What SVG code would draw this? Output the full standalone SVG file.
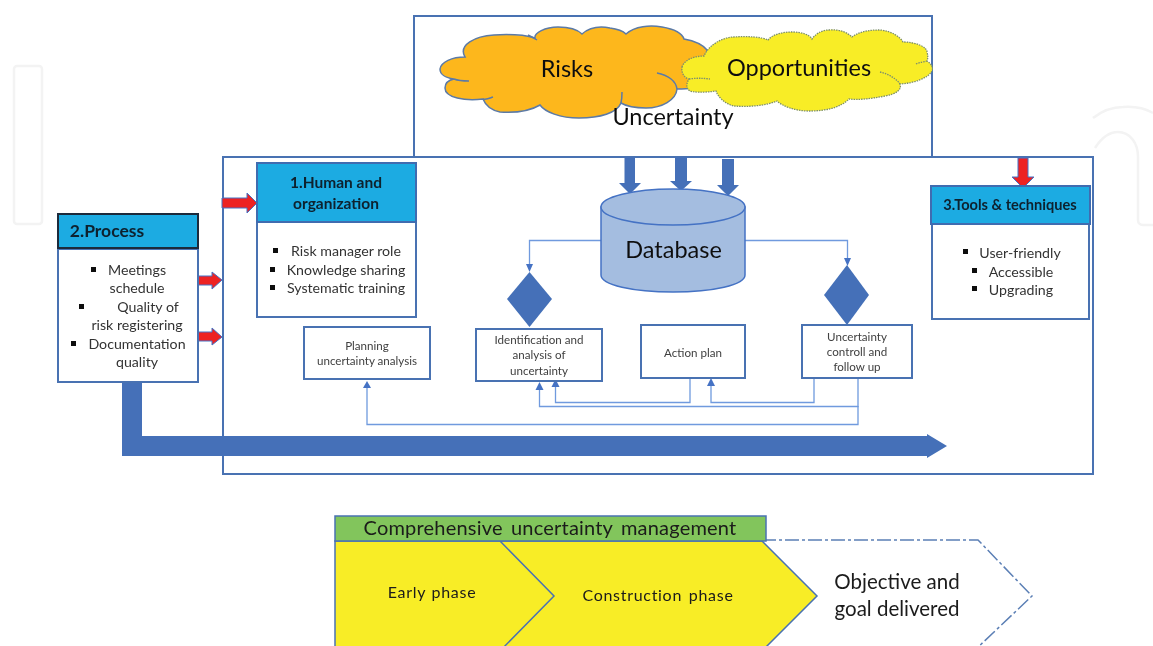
<svg xmlns="http://www.w3.org/2000/svg" width="1153" height="646" viewBox="0 0 1153 646">
<style>
text{font-family:Lato,"Liberation Sans",sans-serif;fill:#1a1a1a;text-anchor:middle}
.box{fill:#fff;stroke:#4a72b2;stroke-width:2}
.head{fill:#1aabe2;stroke:#3f6cb0;stroke-width:2}
.hd{font-weight:700;font-size:15.500px;fill:#10202e}
.b{font-size:14.200px;fill:#333}
.s{font-size:11.600px;fill:#404040}
.big{font-size:23.500px;fill:#111}
.c{fill:none;stroke:#6f9ade;stroke-width:1.3}
.tip{fill:#4472c4}
.red{fill:#ed2024;stroke:#4472c4;stroke-width:1}
.blue{fill:#4470b8}
.wm{fill:none;stroke:#f3f3f3;stroke-width:2.500}
.sq{fill:#111}
.crease{fill:none;stroke:#5b7aa6;stroke-width:1.500}
.crease2{fill:none;stroke:#7d8f6a;stroke-width:1.300;stroke-dasharray:1.500 1}
</style>
<defs><filter id="soft" x="0" y="0" width="100%" height="100%"><feGaussianBlur stdDeviation="0.45"/></filter></defs>
<g filter="url(#soft)">
<rect width="1153" height="646" fill="#fff"/>
<g id="watermark">
<rect class="wm" x="14" y="66" width="28" height="158" rx="3"/>
<path class="wm" d="M1093 118C1102 111 1112 107 1123 107C1135 106 1146 109 1153 113"/>
<path class="wm" d="M1095 148C1102 137 1110 132 1118 132C1130 132 1138 143 1138 157V220C1138 223 1140 225 1143 225H1153"/>
</g>
<g id="uncertainty">
<rect class="box" x="414" y="16" width="518" height="141"/>
</g>
<g id="risks">
<path d="M440 69C441 62 452 57 465 57C458 45 475 36 494 35C510 34 525 35 535 38C534 33 545 27 558 27C570 27 578 30 582 34C590 27 600 26 610 28C618 29 624 32 626 34C635 26 650 25 662 27C674 29 682 33 684 39C695 41 703 45 707 50L700 85C697 88 685 89 677 89C676 100 662 108 646 108C636 108 626 106 621 103C617 113 600 118 579 118C560 118 545 112 540 105C530 111 515 113 500 112C490 110 485 104 483 99C465 101 445 98 445 88C445 83 449 80 454 79C445 78 440 74 440 69Z" fill="#fdb71f" stroke="#5b7aa6" stroke-width="1.500"/>
<path class="crease" d="M454 79C459 81 464 81 469 81M657 73C668 75 676 81 677 89M621 103C622 99 622 95 622 92M528 35C530 36 534 38 537 40M483 99C487 100 490 98 493 97"/>
</g>
<g id="opportunities">
<path d="M682 67C684 60 694 56 704 56C708 46 722 37 734 37C748 36 762 37 768 40C773 34 783 32 792 32C802 32 810 35 812 39C817 32 824 30 829 30C840 29 848 33 852 37C860 31 870 30 880 30C892 31 900 37 903 42C916 42 927 47 927 52C928 56 928 58 927 61C932 64 933 68 932 71C928 78 915 83 900 84C902 90 896 94 885 96C870 99 858 100 849 99C840 108 825 111 809 111C795 111 782 106 777 101C765 106 748 107 734 106C725 104 718 97 716 91C703 93 692 92 690 91C685 88 687 82 689 79C684 78 681 72 682 67Z" fill="#f8ed28" stroke="#7d8f6a" stroke-width="1.300" stroke-dasharray="1.500 1"/>
<path class="crease2" d="M689 79C696 78 702 78 710 79M880 72C888 74 896 78 900 84M927 61C924 62 920 62 916 64"/>
</g>
<text class="big" x="567" y="77">Risks</text>
<text class="big" x="799" y="76">Opportunities</text>
<text class="big" x="673" y="125">Uncertainty</text>
<g id="main">
<rect class="box" x="223" y="157" width="870" height="317"/>
</g>
<g id="connectors">
<path class="c" d="M601 240.500H529.500V264"/>
<path class="c" d="M745 240.500H847.500V258"/>
<path class="c" d="M690 378V402.500H555.500V386"/>
<path class="c" d="M858 378V406.500H539.500V386"/>
<path class="c" d="M814 378V402.500H711V384"/>
<path class="c" d="M858 406V424.500H367V386"/>
<polygon class="tip" points="526,264 533,264 529.500,272"/>
<polygon class="tip" points="844,258 851,258 847.500,266"/>
<polygon class="tip" points="551.500,387 559.500,387 555.500,379"/>
<polygon class="tip" points="535.500,390 543.500,390 539.500,382"/>
<polygon class="tip" points="707,386 715,386 711,378"/>
<polygon class="tip" points="363,388 371,388 367,381"/>
<path class="blue" d="M122 382H142V436H927V434L947 446L927 458V456H122Z"/>
<polygon class="blue" points="624.500,157 635,157 635,183 641,183 630,194 619,183 624.500,183"/>
<polygon class="blue" points="675,157 687,157 687,181 692,181 681,191 670,181 675,181"/>
<polygon class="blue" points="722,159 734,159 734,185 739,185 728,196 717,185 722,185"/>
<polygon class="red" points="222,198 247,198 247,193 257,203 247,213 247,208 222,208"/>
<polygon class="red" points="198,276 212,276 212,272 222,280 212,289 212,285 198,285"/>
<polygon class="red" points="198,332 212,332 212,328 222,337 212,345 212,341 198,341"/>
<polygon class="red" points="1018,158 1028,158 1028,177 1034,177 1023,188 1012,177 1018,177"/>
</g>
<g id="database">
<path d="M601 207V275C601 285 633 292 673 292C713 292 745 285 745 275V207Z" fill="#a4bde0" stroke="#4472c4" stroke-width="1.500"/>
<ellipse cx="673" cy="207" rx="72" ry="18" fill="#a4bde0" stroke="#4472c4" stroke-width="1.500"/>
<text x="673.500" y="258" style="font-size:23.500px;fill:#111">Database</text>
</g>
<g id="diamond-left"><polygon class="blue" points="529.500,272 552,299 529.500,327 507,299"/></g>
<g id="diamond-right"><polygon class="blue" points="847,265 869,295 847,325 824,295"/></g>
<g id="process">
<rect class="box" x="58" y="249" width="140" height="133"/>
<rect x="58" y="214" width="140" height="34" fill="#1aabe2" stroke="#1c2b3a" stroke-width="2"/>
<text x="107" y="237" style="font-weight:700;font-size:17.500px;fill:#10202e">2.Process</text>
<text class="b" x="137" y="275">Meetings</text>
<text class="b" x="137" y="293">schedule</text>
<text class="b" x="148" y="312">Quality of</text>
<text class="b" x="137" y="330">risk registering</text>
<text class="b" x="137" y="349">Documentation</text>
<text class="b" x="137" y="367">quality</text>
<rect class="sq" x="91" y="267" width="5" height="5"/>
<rect class="sq" x="79" y="304" width="5" height="5"/>
<rect class="sq" x="71" y="341" width="5" height="5"/>
</g>
<g id="human">
<rect class="box" x="257" y="222" width="159" height="95"/>
<rect class="head" x="257" y="163" width="159" height="59"/>
<text class="hd" x="336" y="188">1.Human and</text>
<text class="hd" x="336" y="209">organization</text>
<text class="b" x="346" y="256">Risk manager role</text>
<text class="b" x="346" y="275">Knowledge sharing</text>
<text class="b" x="346" y="293">Systematic training</text>
<rect class="sq" x="273" y="248" width="5" height="5"/>
<rect class="sq" x="270" y="267" width="5" height="5"/>
<rect class="sq" x="270" y="285" width="5" height="5"/>
</g>
<g id="tools">
<rect class="box" x="932" y="224" width="157" height="95"/>
<rect class="head" x="931" y="186" width="159" height="38"/>
<text class="hd" x="1010" y="210" style="font-size:14.600px">3.Tools &amp; techniques</text>
<text class="b" x="1020" y="258">User-friendly</text>
<text class="b" x="1021" y="277">Accessible</text>
<text class="b" x="1021" y="295">Upgrading</text>
<rect class="sq" x="963" y="249" width="5" height="5"/>
<rect class="sq" x="972" y="268" width="5" height="5"/>
<rect class="sq" x="972" y="286" width="5" height="5"/>
</g>
<g id="planning">
<rect class="box" x="304" y="327" width="126" height="52"/>
<text class="s" x="367" y="350">Planning</text>
<text class="s" x="367" y="365">uncertainty analysis</text>
</g>
<g id="identification">
<rect class="box" x="476" y="329" width="126" height="52"/>
<text class="s" x="539" y="344">Identification and</text>
<text class="s" x="539" y="359">analysis of</text>
<text class="s" x="539" y="375">uncertainty</text>
</g>
<g id="action">
<rect class="box" x="641" y="325" width="104" height="53"/>
<text class="s" x="693" y="357">Action plan</text>
</g>
<g id="control">
<rect class="box" x="802" y="325" width="110" height="53"/>
<text class="s" x="857" y="341">Uncertainty</text>
<text class="s" x="857" y="356">controll and</text>
<text class="s" x="857" y="371">follow up</text>
</g>
<g id="objective">
<path d="M762 540H978L1032 596L975 650" fill="none" stroke="#5b7fb5" stroke-width="1.500" stroke-dasharray="14 3 3 3"/>
<text x="897" y="589" style="font-size:20.500px">Objective and</text>
<text x="897" y="616" style="font-size:20.500px">goal delivered</text>
</g>
<g id="construction">
<path d="M500 541H762L817 596L762 651H500Z" fill="#f8ed28" stroke="#4a72b2" stroke-width="1.500"/>
<text x="658" y="601" style="font-size:16px;letter-spacing:.7px;word-spacing:2px">Construction phase</text>
</g>
<g id="early">
<path d="M335 541H500L554 596L500 651H335Z" fill="#f8ed28" stroke="#4a72b2" stroke-width="1.500"/>
<text x="432" y="598" style="font-size:16px;letter-spacing:.7px;word-spacing:1px">Early phase</text>
</g>
<g id="header">
<rect x="335" y="516" width="431" height="25" fill="#82c55b" stroke="#4a72b2" stroke-width="1.500"/>
<text x="550" y="535" style="font-size:20px;letter-spacing:.2px;word-spacing:3px">Comprehensive uncertainty management</text>
</g>
</g>
</svg>
